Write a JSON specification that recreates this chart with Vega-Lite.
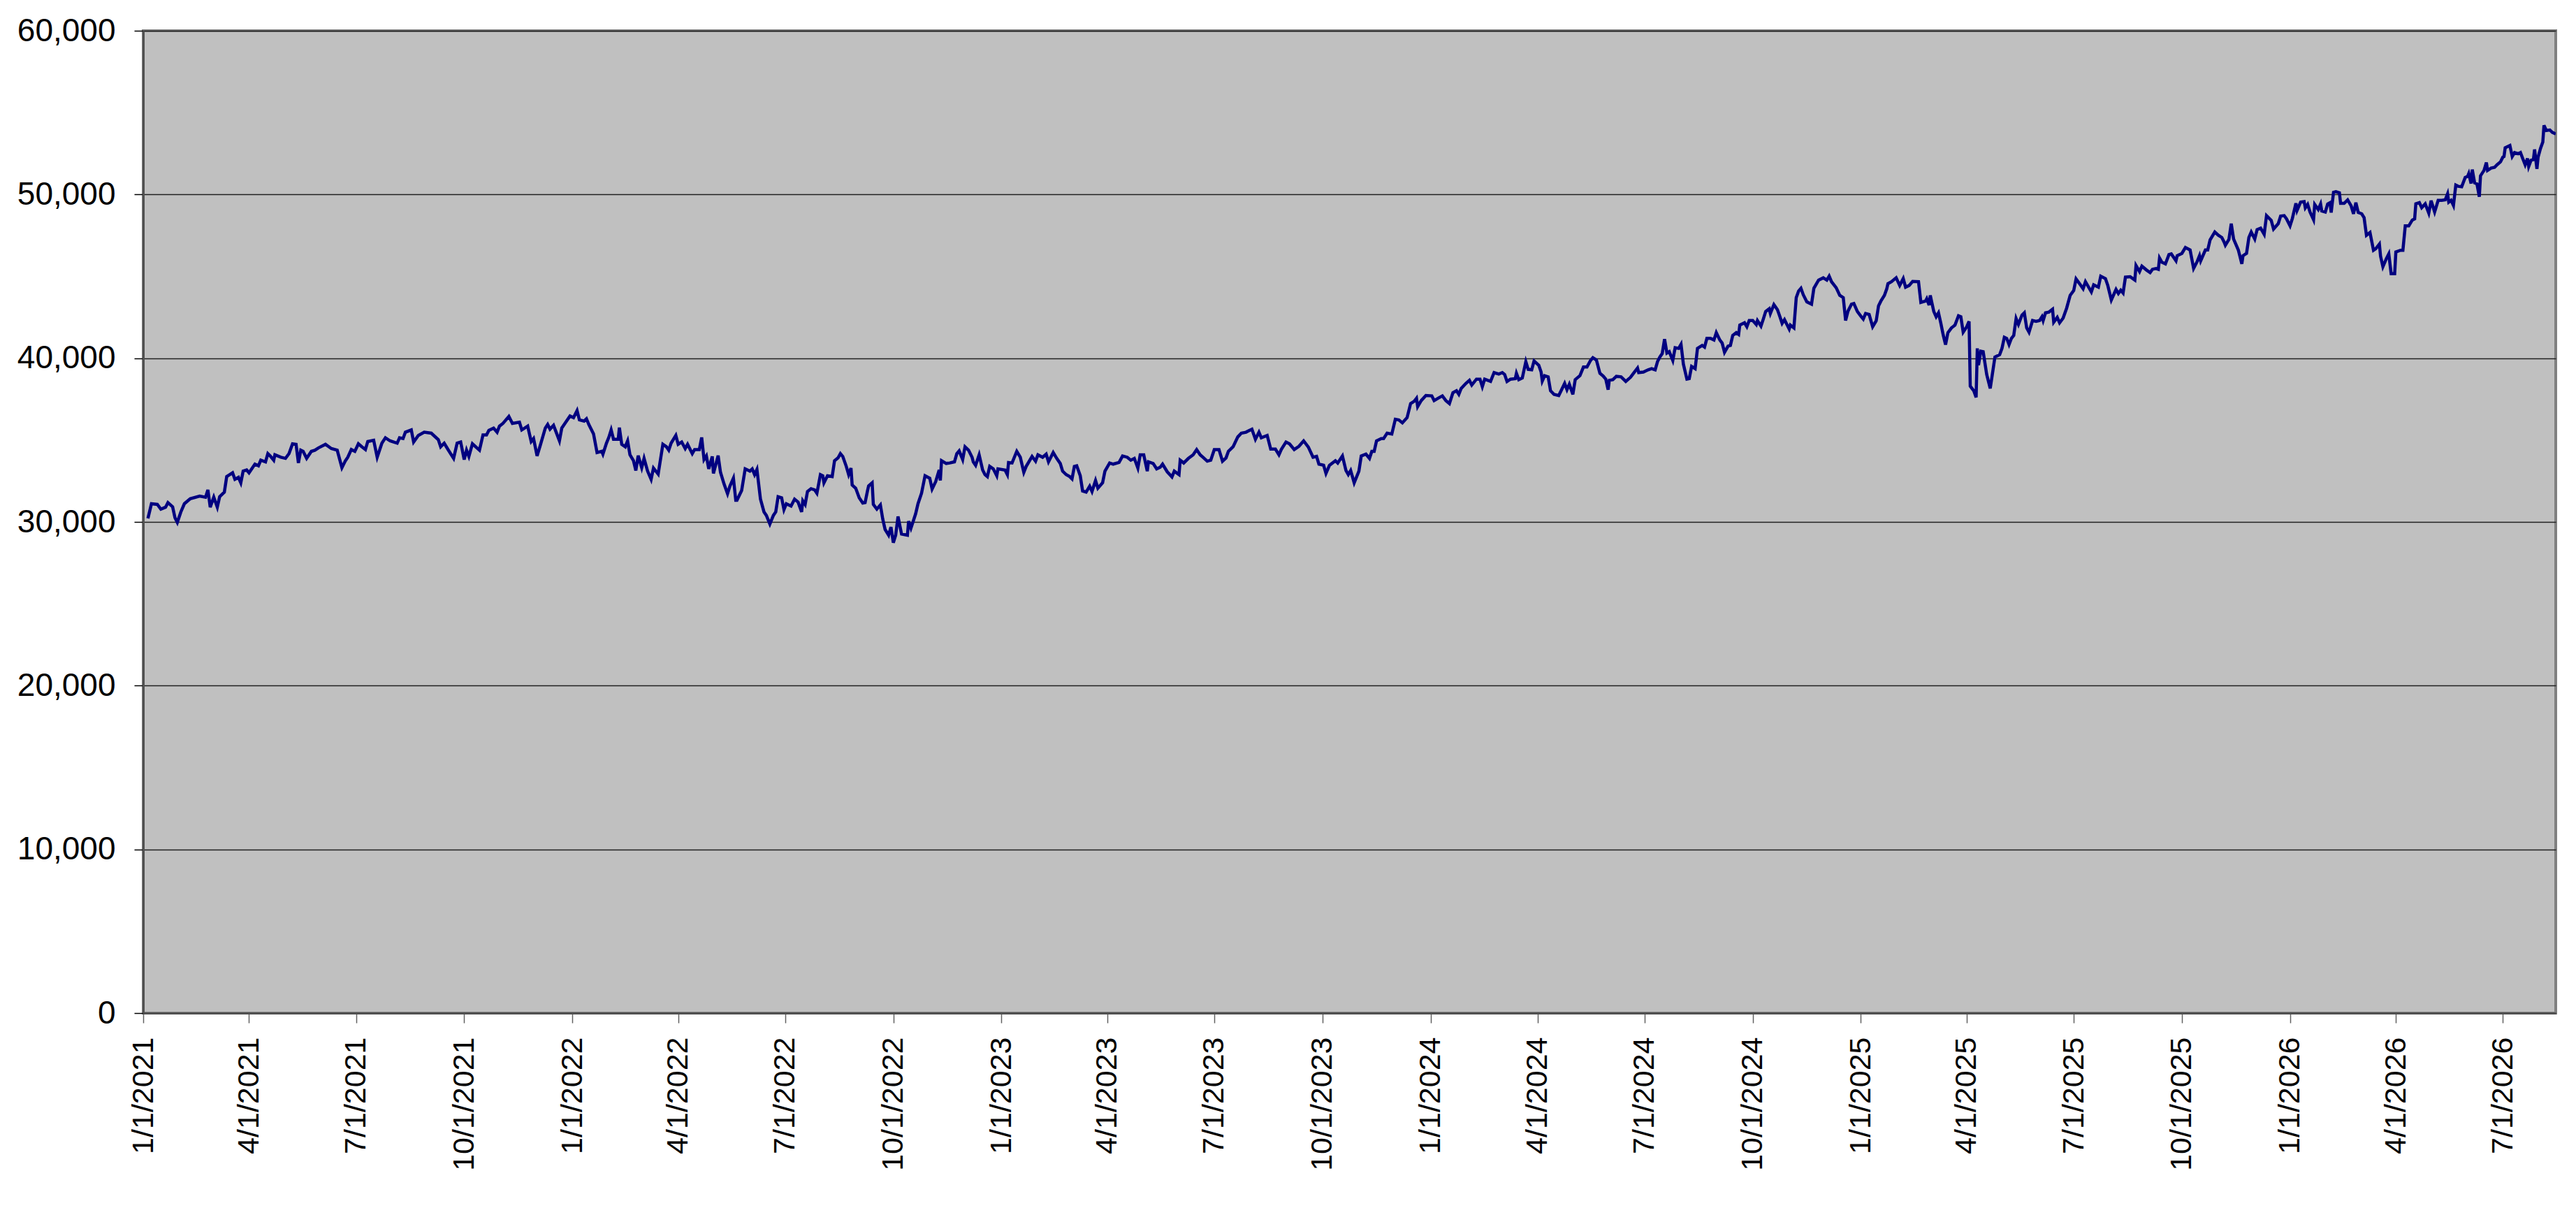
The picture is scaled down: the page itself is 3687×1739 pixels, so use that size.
{
"$schema": "https://vega.github.io/schema/vega-lite/v6.json",
"width": 3453,
"height": 1406,
"autosize": {"type": "none"},
"padding": {"left": 205, "top": 44, "right": 29, "bottom": 289},
"background": "#ffffff",
"config": {
  "view": {"fill": "#C0C0C0", "stroke": "#808080", "strokeWidth": 4},
  "font": "Liberation Sans",
  "axis": {"labelFont": "Liberation Sans", "labelColor": "#000000", "labelLimit": 0}
},
"data": {"values": [
{"d":"2021-01-05","v":30210},{"d":"2021-01-08","v":31110},{"d":"2021-01-13","v":31070},{"d":"2021-01-16","v":30780},{"d":"2021-01-20","v":30900},{"d":"2021-01-22","v":31180},{"d":"2021-01-26","v":30920},{"d":"2021-01-28","v":30260},{"d":"2021-01-30","v":29970},
{"d":"2021-02-02","v":30610},{"d":"2021-02-05","v":31110},{"d":"2021-02-10","v":31420},{"d":"2021-02-18","v":31580},{"d":"2021-02-23","v":31510},{"d":"2021-02-25","v":31960},{"d":"2021-02-27","v":30900},
{"d":"2021-03-02","v":31510},{"d":"2021-03-05","v":30900},{"d":"2021-03-07","v":31540},{"d":"2021-03-11","v":31820},{"d":"2021-03-13","v":32770},{"d":"2021-03-18","v":33000},{"d":"2021-03-20","v":32600},{"d":"2021-03-23","v":32720},{"d":"2021-03-25","v":32390},{"d":"2021-03-27","v":33100},{"d":"2021-03-30","v":33170},
{"d":"2021-04-01","v":33000},{"d":"2021-04-06","v":33530},{"d":"2021-04-09","v":33430},{"d":"2021-04-11","v":33770},{"d":"2021-04-15","v":33670},{"d":"2021-04-17","v":34170},{"d":"2021-04-19","v":34030},{"d":"2021-04-22","v":33770},{"d":"2021-04-23","v":34100},{"d":"2021-04-28","v":33950},
{"d":"2021-05-02","v":33880},{"d":"2021-05-05","v":34170},{"d":"2021-05-08","v":34770},{"d":"2021-05-11","v":34740},{"d":"2021-05-13","v":33600},{"d":"2021-05-15","v":34380},{"d":"2021-05-17","v":34310},{"d":"2021-05-20","v":33880},{"d":"2021-05-24","v":34310},{"d":"2021-05-27","v":34380},{"d":"2021-05-30","v":34520},
{"d":"2021-06-05","v":34740},{"d":"2021-06-10","v":34480},{"d":"2021-06-15","v":34380},{"d":"2021-06-19","v":33310},{"d":"2021-06-22","v":33740},{"d":"2021-06-24","v":33950},{"d":"2021-06-27","v":34420},{"d":"2021-06-30","v":34310},
{"d":"2021-07-03","v":34770},{"d":"2021-07-06","v":34590},{"d":"2021-07-09","v":34420},{"d":"2021-07-11","v":34910},{"d":"2021-07-16","v":34990},{"d":"2021-07-19","v":33950},{"d":"2021-07-23","v":34810},{"d":"2021-07-26","v":35140},{"d":"2021-07-30","v":34950},
{"d":"2021-08-02","v":34880},{"d":"2021-08-05","v":34810},{"d":"2021-08-07","v":35140},{"d":"2021-08-10","v":35090},{"d":"2021-08-12","v":35480},{"d":"2021-08-17","v":35620},{"d":"2021-08-19","v":34880},{"d":"2021-08-23","v":35280},{"d":"2021-08-28","v":35480},
{"d":"2021-09-03","v":35420},{"d":"2021-09-09","v":35020},{"d":"2021-09-11","v":34590},{"d":"2021-09-14","v":34810},{"d":"2021-09-17","v":34450},{"d":"2021-09-22","v":33880},{"d":"2021-09-25","v":34810},{"d":"2021-09-28","v":34880},
{"d":"2021-10-01","v":33810},{"d":"2021-10-03","v":34380},{"d":"2021-10-05","v":34000},{"d":"2021-10-08","v":34770},{"d":"2021-10-14","v":34380},{"d":"2021-10-17","v":35310},{"d":"2021-10-20","v":35310},{"d":"2021-10-22","v":35590},{"d":"2021-10-26","v":35730},{"d":"2021-10-29","v":35480},{"d":"2021-10-31","v":35850},
{"d":"2021-11-03","v":36020},{"d":"2021-11-08","v":36440},{"d":"2021-11-11","v":36020},{"d":"2021-11-17","v":36090},{"d":"2021-11-19","v":35620},{"d":"2021-11-24","v":35850},{"d":"2021-11-27","v":34910},{"d":"2021-11-29","v":35090},
{"d":"2021-12-02","v":34030},{"d":"2021-12-05","v":34740},{"d":"2021-12-09","v":35730},{"d":"2021-12-11","v":35950},{"d":"2021-12-13","v":35660},{"d":"2021-12-16","v":35900},{"d":"2021-12-18","v":35520},{"d":"2021-12-21","v":34950},{"d":"2021-12-23","v":35730},{"d":"2021-12-26","v":36050},{"d":"2021-12-30","v":36470},
{"d":"2022-01-02","v":36370},{"d":"2022-01-05","v":36800},{"d":"2022-01-07","v":36230},{"d":"2022-01-11","v":36160},{"d":"2022-01-13","v":36300},{"d":"2022-01-15","v":35950},{"d":"2022-01-19","v":35380},{"d":"2022-01-22","v":34240},{"d":"2022-01-26","v":34310},{"d":"2022-01-27","v":34140},{"d":"2022-01-30","v":34810},
{"d":"2022-02-01","v":35160},{"d":"2022-02-03","v":35620},{"d":"2022-02-05","v":35050},{"d":"2022-02-09","v":35050},{"d":"2022-02-10","v":35760},{"d":"2022-02-12","v":34740},{"d":"2022-02-15","v":34590},{"d":"2022-02-17","v":34950},{"d":"2022-02-19","v":34100},{"d":"2022-02-22","v":33740},{"d":"2022-02-24","v":33140},{"d":"2022-02-26","v":34050},
{"d":"2022-03-01","v":33310},{"d":"2022-03-03","v":33880},{"d":"2022-03-06","v":33100},{"d":"2022-03-09","v":32600},{"d":"2022-03-11","v":33290},{"d":"2022-03-15","v":32920},{"d":"2022-03-19","v":34740},{"d":"2022-03-22","v":34590},{"d":"2022-03-24","v":34380},{"d":"2022-03-26","v":34810},{"d":"2022-03-30","v":35280},
{"d":"2022-04-01","v":34740},{"d":"2022-04-04","v":34880},{"d":"2022-04-07","v":34480},{"d":"2022-04-09","v":34740},{"d":"2022-04-13","v":34170},{"d":"2022-04-15","v":34420},{"d":"2022-04-19","v":34420},{"d":"2022-04-21","v":35160},{"d":"2022-04-23","v":33810},{"d":"2022-04-25","v":34030},{"d":"2022-04-27","v":33240},{"d":"2022-04-30","v":34000},
{"d":"2022-05-01","v":32960},{"d":"2022-05-05","v":34050},{"d":"2022-05-07","v":33030},{"d":"2022-05-10","v":32320},{"d":"2022-05-13","v":31720},{"d":"2022-05-15","v":32180},{"d":"2022-05-18","v":32670},{"d":"2022-05-20","v":31320},{"d":"2022-05-21","v":31320},{"d":"2022-05-25","v":31920},{"d":"2022-05-28","v":33240},
{"d":"2022-06-01","v":33100},{"d":"2022-06-03","v":33240},{"d":"2022-06-05","v":32890},{"d":"2022-06-07","v":33200},{"d":"2022-06-10","v":31390},{"d":"2022-06-13","v":30610},{"d":"2022-06-15","v":30400},{"d":"2022-06-18","v":29870},{"d":"2022-06-21","v":30400},{"d":"2022-06-23","v":30610},{"d":"2022-06-25","v":31540},{"d":"2022-06-28","v":31470},{"d":"2022-06-30","v":30750},
{"d":"2022-07-02","v":31110},{"d":"2022-07-06","v":30970},{"d":"2022-07-09","v":31390},{"d":"2022-07-12","v":31210},{"d":"2022-07-15","v":30610},{"d":"2022-07-16","v":31290},{"d":"2022-07-18","v":31070},{"d":"2022-07-20","v":31860},{"d":"2022-07-23","v":32030},{"d":"2022-07-26","v":31960},{"d":"2022-07-28","v":31750},{"d":"2022-07-31","v":32890},
{"d":"2022-08-02","v":32820},{"d":"2022-08-03","v":32390},{"d":"2022-08-06","v":32820},{"d":"2022-08-10","v":32770},{"d":"2022-08-12","v":33740},{"d":"2022-08-15","v":33910},{"d":"2022-08-17","v":34170},{"d":"2022-08-19","v":34000},{"d":"2022-08-22","v":33390},{"d":"2022-08-24","v":32890},{"d":"2022-08-26","v":33290},{"d":"2022-08-27","v":32250},{"d":"2022-08-30","v":32060},
{"d":"2022-09-02","v":31470},{"d":"2022-09-05","v":31150},{"d":"2022-09-07","v":31180},{"d":"2022-09-09","v":31890},{"d":"2022-09-10","v":32200},{"d":"2022-09-13","v":32390},{"d":"2022-09-14","v":31070},{"d":"2022-09-17","v":30780},{"d":"2022-09-20","v":31040},{"d":"2022-09-22","v":30180},{"d":"2022-09-24","v":29540},{"d":"2022-09-27","v":29190},{"d":"2022-09-29","v":29690},
{"d":"2022-10-01","v":28730},{"d":"2022-10-03","v":29190},{"d":"2022-10-05","v":30330},{"d":"2022-10-08","v":29260},{"d":"2022-10-13","v":29190},{"d":"2022-10-14","v":30040},{"d":"2022-10-16","v":29620},{"d":"2022-10-20","v":30500},{"d":"2022-10-22","v":31110},{"d":"2022-10-25","v":31750},{"d":"2022-10-28","v":32820},
{"d":"2022-11-01","v":32670},{"d":"2022-11-03","v":32010},{"d":"2022-11-06","v":32460},{"d":"2022-11-09","v":33170},{"d":"2022-11-10","v":32530},{"d":"2022-11-11","v":33740},{"d":"2022-11-15","v":33570},{"d":"2022-11-18","v":33600},{"d":"2022-11-22","v":33670},{"d":"2022-11-24","v":34170},{"d":"2022-11-26","v":34340},{"d":"2022-11-29","v":33810},
{"d":"2022-12-01","v":34590},{"d":"2022-12-04","v":34380},{"d":"2022-12-07","v":33950},{"d":"2022-12-08","v":33670},{"d":"2022-12-10","v":33460},{"d":"2022-12-13","v":34100},{"d":"2022-12-16","v":33170},{"d":"2022-12-18","v":32890},{"d":"2022-12-20","v":32770},{"d":"2022-12-22","v":33390},{"d":"2022-12-25","v":33240},{"d":"2022-12-28","v":32820},{"d":"2022-12-29","v":33240},
{"d":"2023-01-04","v":33170},{"d":"2023-01-06","v":32890},{"d":"2023-01-07","v":33630},{"d":"2023-01-10","v":33600},{"d":"2023-01-14","v":34310},{"d":"2023-01-17","v":33950},{"d":"2023-01-20","v":33030},{"d":"2023-01-22","v":33390},{"d":"2023-01-27","v":34000},{"d":"2023-01-30","v":33710},
{"d":"2023-02-01","v":34100},{"d":"2023-02-05","v":33950},{"d":"2023-02-08","v":34140},{"d":"2023-02-10","v":33670},{"d":"2023-02-14","v":34240},{"d":"2023-02-17","v":33880},{"d":"2023-02-20","v":33570},{"d":"2023-02-22","v":33100},{"d":"2023-02-25","v":32890},{"d":"2023-02-28","v":32770},
{"d":"2023-03-02","v":32630},{"d":"2023-03-04","v":33390},{"d":"2023-03-06","v":33430},{"d":"2023-03-09","v":32820},{"d":"2023-03-11","v":31890},{"d":"2023-03-14","v":31820},{"d":"2023-03-17","v":32180},{"d":"2023-03-19","v":31860},{"d":"2023-03-22","v":32530},{"d":"2023-03-24","v":32060},{"d":"2023-03-28","v":32390},{"d":"2023-03-30","v":33100},
{"d":"2023-04-03","v":33600},{"d":"2023-04-06","v":33530},{"d":"2023-04-11","v":33630},{"d":"2023-04-14","v":34030},{"d":"2023-04-18","v":33950},{"d":"2023-04-21","v":33770},{"d":"2023-04-24","v":33880},{"d":"2023-04-27","v":33290},{"d":"2023-04-29","v":34100},
{"d":"2023-05-02","v":34100},{"d":"2023-05-05","v":33100},{"d":"2023-05-06","v":33670},{"d":"2023-05-10","v":33570},{"d":"2023-05-13","v":33240},{"d":"2023-05-16","v":33340},{"d":"2023-05-18","v":33530},{"d":"2023-05-22","v":33060},{"d":"2023-05-26","v":32750},{"d":"2023-05-28","v":33100},
{"d":"2023-06-01","v":32890},{"d":"2023-06-02","v":33770},{"d":"2023-06-05","v":33600},{"d":"2023-06-09","v":33880},{"d":"2023-06-13","v":34100},{"d":"2023-06-16","v":34420},{"d":"2023-06-19","v":34100},{"d":"2023-06-22","v":33910},{"d":"2023-06-25","v":33710},{"d":"2023-06-28","v":33770},
{"d":"2023-07-01","v":34420},{"d":"2023-07-05","v":34420},{"d":"2023-07-08","v":33710},{"d":"2023-07-11","v":33910},{"d":"2023-07-13","v":34310},{"d":"2023-07-17","v":34590},{"d":"2023-07-21","v":35190},{"d":"2023-07-24","v":35420},{"d":"2023-07-28","v":35480},{"d":"2023-07-30","v":35560},
{"d":"2023-08-02","v":35660},{"d":"2023-08-05","v":35050},{"d":"2023-08-08","v":35480},{"d":"2023-08-10","v":35140},{"d":"2023-08-15","v":35280},{"d":"2023-08-18","v":34450},{"d":"2023-08-22","v":34450},{"d":"2023-08-25","v":34100},{"d":"2023-08-27","v":34420},{"d":"2023-08-31","v":34880},
{"d":"2023-09-03","v":34770},{"d":"2023-09-07","v":34420},{"d":"2023-09-11","v":34620},{"d":"2023-09-15","v":34950},{"d":"2023-09-19","v":34570},{"d":"2023-09-23","v":33950},{"d":"2023-09-26","v":34000},{"d":"2023-09-28","v":33530},
{"d":"2023-10-02","v":33460},{"d":"2023-10-04","v":32960},{"d":"2023-10-07","v":33460},{"d":"2023-10-12","v":33740},{"d":"2023-10-14","v":33600},{"d":"2023-10-18","v":34030},{"d":"2023-10-21","v":33140},{"d":"2023-10-23","v":32890},{"d":"2023-10-25","v":33140},{"d":"2023-10-28","v":32390},
{"d":"2023-11-01","v":33100},{"d":"2023-11-03","v":34030},{"d":"2023-11-07","v":34140},{"d":"2023-11-10","v":33880},{"d":"2023-11-12","v":34310},{"d":"2023-11-14","v":34310},{"d":"2023-11-16","v":34950},{"d":"2023-11-20","v":35090},{"d":"2023-11-22","v":35090},{"d":"2023-11-25","v":35420},{"d":"2023-11-29","v":35370},
{"d":"2023-12-02","v":36270},{"d":"2023-12-05","v":36230},{"d":"2023-12-08","v":36050},{"d":"2023-12-12","v":36370},{"d":"2023-12-15","v":37230},{"d":"2023-12-18","v":37370},{"d":"2023-12-20","v":37550},{"d":"2023-12-21","v":37040},{"d":"2023-12-24","v":37410},{"d":"2023-12-28","v":37720},
{"d":"2024-01-02","v":37700},{"d":"2024-01-04","v":37410},{"d":"2024-01-08","v":37580},{"d":"2024-01-11","v":37700},{"d":"2024-01-14","v":37410},{"d":"2024-01-17","v":37230},{"d":"2024-01-20","v":37890},{"d":"2024-01-23","v":38010},{"d":"2024-01-25","v":37790},{"d":"2024-01-27","v":38150},{"d":"2024-01-31","v":38460},
{"d":"2024-02-03","v":38650},{"d":"2024-02-05","v":38360},{"d":"2024-02-09","v":38720},{"d":"2024-02-12","v":38720},{"d":"2024-02-14","v":38260},{"d":"2024-02-16","v":38720},{"d":"2024-02-21","v":38580},{"d":"2024-02-24","v":39120},{"d":"2024-02-28","v":39030},
{"d":"2024-03-02","v":39120},{"d":"2024-03-04","v":39000},{"d":"2024-03-06","v":38580},{"d":"2024-03-09","v":38720},{"d":"2024-03-13","v":38750},{"d":"2024-03-14","v":39080},{"d":"2024-03-16","v":38690},{"d":"2024-03-19","v":38790},{"d":"2024-03-22","v":39790},{"d":"2024-03-24","v":39320},{"d":"2024-03-27","v":39290},{"d":"2024-03-29","v":39830},
{"d":"2024-04-02","v":39570},{"d":"2024-04-04","v":39150},{"d":"2024-04-05","v":38610},{"d":"2024-04-07","v":38930},{"d":"2024-04-10","v":38860},{"d":"2024-04-12","v":38010},{"d":"2024-04-15","v":37790},{"d":"2024-04-19","v":37720},{"d":"2024-04-21","v":38010},{"d":"2024-04-24","v":38460},{"d":"2024-04-26","v":38080},{"d":"2024-04-28","v":38410},
{"d":"2024-05-01","v":37790},{"d":"2024-05-03","v":38690},{"d":"2024-05-07","v":38930},{"d":"2024-05-10","v":39460},{"d":"2024-05-13","v":39460},{"d":"2024-05-16","v":39860},{"d":"2024-05-18","v":40030},{"d":"2024-05-21","v":39890},{"d":"2024-05-24","v":39080},{"d":"2024-05-27","v":38890},{"d":"2024-05-29","v":38720},{"d":"2024-05-31","v":38080},
{"d":"2024-06-01","v":38650},{"d":"2024-06-04","v":38690},{"d":"2024-06-07","v":38890},{"d":"2024-06-11","v":38860},{"d":"2024-06-15","v":38580},{"d":"2024-06-19","v":38830},{"d":"2024-06-22","v":39120},{"d":"2024-06-25","v":39400},{"d":"2024-06-26","v":39120},{"d":"2024-06-30","v":39150},
{"d":"2024-07-04","v":39290},{"d":"2024-07-07","v":39360},{"d":"2024-07-10","v":39290},{"d":"2024-07-12","v":39790},{"d":"2024-07-14","v":40070},{"d":"2024-07-16","v":40280},{"d":"2024-07-18","v":41170},{"d":"2024-07-20","v":40310},{"d":"2024-07-22","v":40400},{"d":"2024-07-25","v":39860},{"d":"2024-07-27","v":40640},{"d":"2024-07-30","v":40600},
{"d":"2024-08-01","v":40850},{"d":"2024-08-03","v":39640},{"d":"2024-08-06","v":38720},{"d":"2024-08-08","v":38750},{"d":"2024-08-10","v":39500},{"d":"2024-08-13","v":39360},{"d":"2024-08-15","v":40600},{"d":"2024-08-19","v":40780},{"d":"2024-08-21","v":40680},{"d":"2024-08-23","v":41210},{"d":"2024-08-26","v":41210},{"d":"2024-08-29","v":41110},{"d":"2024-08-31","v":41560},
{"d":"2024-09-03","v":41110},{"d":"2024-09-05","v":40920},{"d":"2024-09-07","v":40360},{"d":"2024-09-10","v":40740},{"d":"2024-09-12","v":40780},{"d":"2024-09-14","v":41390},{"d":"2024-09-17","v":41560},{"d":"2024-09-19","v":41450},{"d":"2024-09-20","v":42020},{"d":"2024-09-24","v":42160},{"d":"2024-09-26","v":41920},{"d":"2024-09-28","v":42300},
{"d":"2024-10-01","v":42300},{"d":"2024-10-04","v":42060},{"d":"2024-10-05","v":42300},{"d":"2024-10-08","v":41960},{"d":"2024-10-10","v":42390},{"d":"2024-10-12","v":42850},{"d":"2024-10-15","v":43020},{"d":"2024-10-16","v":42730},{"d":"2024-10-19","v":43270},{"d":"2024-10-22","v":42960},{"d":"2024-10-24","v":42560},{"d":"2024-10-26","v":42130},{"d":"2024-10-28","v":42350},
{"d":"2024-11-01","v":41780},{"d":"2024-11-02","v":42020},{"d":"2024-11-05","v":41850},{"d":"2024-11-07","v":43700},{"d":"2024-11-09","v":44100},{"d":"2024-11-11","v":44270},{"d":"2024-11-13","v":43870},{"d":"2024-11-16","v":43440},{"d":"2024-11-20","v":43300},{"d":"2024-11-22","v":44270},{"d":"2024-11-26","v":44770},{"d":"2024-11-30","v":44910},
{"d":"2024-12-03","v":44770},{"d":"2024-12-05","v":45010},{"d":"2024-12-07","v":44670},{"d":"2024-12-11","v":44300},{"d":"2024-12-14","v":43840},{"d":"2024-12-17","v":43700},{"d":"2024-12-19","v":42300},{"d":"2024-12-21","v":42870},{"d":"2024-12-24","v":43300},{"d":"2024-12-26","v":43340},{"d":"2024-12-29","v":42850},
{"d":"2025-01-01","v":42560},{"d":"2025-01-03","v":42390},{"d":"2025-01-05","v":42730},{"d":"2025-01-08","v":42670},{"d":"2025-01-11","v":41920},{"d":"2025-01-14","v":42280},{"d":"2025-01-16","v":43200},{"d":"2025-01-18","v":43490},{"d":"2025-01-21","v":43840},{"d":"2025-01-23","v":44240},{"d":"2025-01-24","v":44550},{"d":"2025-01-27","v":44670},{"d":"2025-01-31","v":44910},
{"d":"2025-02-03","v":44440},{"d":"2025-02-06","v":44860},{"d":"2025-02-08","v":44340},{"d":"2025-02-11","v":44440},{"d":"2025-02-14","v":44690},{"d":"2025-02-19","v":44670},{"d":"2025-02-21","v":43410},{"d":"2025-02-25","v":43490},{"d":"2025-02-26","v":43630},{"d":"2025-02-28","v":43240},
{"d":"2025-03-01","v":43840},{"d":"2025-03-04","v":42850},{"d":"2025-03-06","v":42530},{"d":"2025-03-08","v":42770},{"d":"2025-03-10","v":42130},{"d":"2025-03-12","v":41420},{"d":"2025-03-14","v":40830},{"d":"2025-03-16","v":41560},{"d":"2025-03-19","v":41850},{"d":"2025-03-22","v":42020},{"d":"2025-03-25","v":42590},{"d":"2025-03-27","v":42530},{"d":"2025-03-29","v":41590},
{"d":"2025-04-01","v":41920},{"d":"2025-04-03","v":42250},{"d":"2025-04-04","v":38290},{"d":"2025-04-07","v":38010},{"d":"2025-04-09","v":37610},{"d":"2025-04-10","v":40600},{"d":"2025-04-11","v":39570},{"d":"2025-04-13","v":40430},{"d":"2025-04-15","v":40400},{"d":"2025-04-18","v":39000},{"d":"2025-04-21","v":38150},{"d":"2025-04-25","v":40070},{"d":"2025-04-29","v":40210},
{"d":"2025-05-01","v":40600},{"d":"2025-05-03","v":41280},{"d":"2025-05-05","v":41210},{"d":"2025-05-07","v":40830},{"d":"2025-05-09","v":41210},{"d":"2025-05-11","v":41390},{"d":"2025-05-13","v":42420},{"d":"2025-05-15","v":42060},{"d":"2025-05-18","v":42630},{"d":"2025-05-20","v":42770},{"d":"2025-05-22","v":41850},{"d":"2025-05-24","v":41590},{"d":"2025-05-27","v":42300},{"d":"2025-05-30","v":42250},
{"d":"2025-06-02","v":42300},{"d":"2025-06-04","v":42530},{"d":"2025-06-05","v":42300},{"d":"2025-06-07","v":42770},{"d":"2025-06-10","v":42820},{"d":"2025-06-13","v":42990},{"d":"2025-06-14","v":42200},{"d":"2025-06-17","v":42490},{"d":"2025-06-19","v":42160},{"d":"2025-06-22","v":42450},{"d":"2025-06-25","v":43060},{"d":"2025-06-28","v":43840},
{"d":"2025-07-01","v":44130},{"d":"2025-07-03","v":44840},{"d":"2025-07-06","v":44550},{"d":"2025-07-09","v":44240},{"d":"2025-07-11","v":44670},{"d":"2025-07-16","v":44050},{"d":"2025-07-18","v":44480},{"d":"2025-07-22","v":44340},{"d":"2025-07-24","v":45010},{"d":"2025-07-28","v":44860},{"d":"2025-07-30","v":44440},
{"d":"2025-08-02","v":43560},{"d":"2025-08-06","v":44200},{"d":"2025-08-08","v":43950},{"d":"2025-08-10","v":44150},{"d":"2025-08-12","v":43980},{"d":"2025-08-14","v":44950},{"d":"2025-08-18","v":44980},{"d":"2025-08-22","v":44770},{"d":"2025-08-23","v":45660},{"d":"2025-08-26","v":45290},{"d":"2025-08-28","v":45620},
{"d":"2025-09-01","v":45380},{"d":"2025-09-04","v":45230},{"d":"2025-09-06","v":45430},{"d":"2025-09-09","v":45480},{"d":"2025-09-11","v":45430},{"d":"2025-09-12","v":46120},{"d":"2025-09-14","v":45860},{"d":"2025-09-17","v":45760},{"d":"2025-09-20","v":46330},{"d":"2025-09-22","v":46370},{"d":"2025-09-26","v":45950},{"d":"2025-09-27","v":46260},
{"d":"2025-10-01","v":46400},{"d":"2025-10-04","v":46760},{"d":"2025-10-08","v":46610},{"d":"2025-10-11","v":45480},{"d":"2025-10-14","v":45900},{"d":"2025-10-16","v":46260},{"d":"2025-10-17","v":45950},{"d":"2025-10-21","v":46610},{"d":"2025-10-23","v":46610},{"d":"2025-10-25","v":47230},{"d":"2025-10-29","v":47710},
{"d":"2025-11-01","v":47510},{"d":"2025-11-04","v":47370},{"d":"2025-11-06","v":47080},{"d":"2025-11-07","v":46900},{"d":"2025-11-10","v":47250},{"d":"2025-11-12","v":48220},{"d":"2025-11-14","v":47280},{"d":"2025-11-18","v":46610},{"d":"2025-11-20","v":46050},{"d":"2025-11-21","v":45760},{"d":"2025-11-22","v":46260},{"d":"2025-11-25","v":46400},{"d":"2025-11-27","v":47370},{"d":"2025-11-29","v":47710},
{"d":"2025-12-02","v":47280},{"d":"2025-12-04","v":47850},{"d":"2025-12-07","v":47940},{"d":"2025-12-10","v":47570},{"d":"2025-12-12","v":48710},{"d":"2025-12-16","v":48420},{"d":"2025-12-18","v":47890},{"d":"2025-12-22","v":48220},{"d":"2025-12-24","v":48680},{"d":"2025-12-27","v":48710},{"d":"2025-12-29","v":48510},
{"d":"2026-01-01","v":48080},{"d":"2026-01-03","v":48540},{"d":"2026-01-06","v":49460},{"d":"2026-01-07","v":49030},{"d":"2026-01-10","v":49530},{"d":"2026-01-13","v":49560},{"d":"2026-01-14","v":49180},{"d":"2026-01-16","v":49390},{"d":"2026-01-18","v":48930},{"d":"2026-01-21","v":48460},{"d":"2026-01-22","v":49390},{"d":"2026-01-25","v":49080},{"d":"2026-01-27","v":49420},{"d":"2026-01-28","v":48990},{"d":"2026-01-31","v":48930},
{"d":"2026-02-02","v":49420},{"d":"2026-02-04","v":49500},{"d":"2026-02-05","v":48890},{"d":"2026-02-07","v":50130},{"d":"2026-02-09","v":50170},{"d":"2026-02-12","v":50100},{"d":"2026-02-13","v":49460},{"d":"2026-02-16","v":49460},{"d":"2026-02-19","v":49670},{"d":"2026-02-22","v":49300},{"d":"2026-02-24","v":48820},{"d":"2026-02-26","v":49500},{"d":"2026-02-28","v":48900},
{"d":"2026-03-03","v":48820},{"d":"2026-03-05","v":48580},{"d":"2026-03-07","v":47510},{"d":"2026-03-10","v":47680},{"d":"2026-03-13","v":46590},{"d":"2026-03-15","v":46690},{"d":"2026-03-18","v":46970},{"d":"2026-03-19","v":46230},{"d":"2026-03-21","v":45590},{"d":"2026-03-24","v":46090},{"d":"2026-03-26","v":46370},{"d":"2026-03-28","v":45160},{"d":"2026-03-31","v":45160},
{"d":"2026-04-01","v":46490},{"d":"2026-04-05","v":46590},{"d":"2026-04-07","v":46590},{"d":"2026-04-09","v":48080},{"d":"2026-04-12","v":48080},{"d":"2026-04-15","v":48440},{"d":"2026-04-17","v":48510},{"d":"2026-04-18","v":49430},{"d":"2026-04-21","v":49500},{"d":"2026-04-23","v":49190},{"d":"2026-04-26","v":49430},{"d":"2026-04-29","v":48860},
{"d":"2026-05-01","v":49620},{"d":"2026-05-04","v":48930},{"d":"2026-05-07","v":49640},{"d":"2026-05-10","v":49640},{"d":"2026-05-13","v":49670},{"d":"2026-05-15","v":50040},{"d":"2026-05-16","v":49530},{"d":"2026-05-18","v":49640},{"d":"2026-05-20","v":49330},{"d":"2026-05-22","v":50570},{"d":"2026-05-24","v":50500},{"d":"2026-05-27","v":50470},{"d":"2026-05-30","v":51040},
{"d":"2026-06-01","v":51100},{"d":"2026-06-02","v":51280},{"d":"2026-06-04","v":50670},{"d":"2026-06-05","v":51520},{"d":"2026-06-07","v":50710},{"d":"2026-06-09","v":50640},{"d":"2026-06-11","v":49860},{"d":"2026-06-12","v":51140},{"d":"2026-06-15","v":51470},{"d":"2026-06-17","v":51950},{"d":"2026-06-18","v":51470},{"d":"2026-06-21","v":51610},{"d":"2026-06-24","v":51660},{"d":"2026-06-26","v":51810},{"d":"2026-06-29","v":51990},
{"d":"2026-07-01","v":52280},{"d":"2026-07-02","v":52320},{"d":"2026-07-03","v":52850},{"d":"2026-07-07","v":52990},{"d":"2026-07-09","v":52320},{"d":"2026-07-11","v":52560},{"d":"2026-07-14","v":52490},{"d":"2026-07-16","v":52560},{"d":"2026-07-18","v":52180},{"d":"2026-07-20","v":51810},{"d":"2026-07-22","v":52200},{"d":"2026-07-23","v":51710},{"d":"2026-07-25","v":52090},{"d":"2026-07-27","v":52130},{"d":"2026-07-28","v":52750},{"d":"2026-07-30","v":51560},{"d":"2026-07-31","v":52280},
{"d":"2026-08-02","v":52800},{"d":"2026-08-04","v":53200},{"d":"2026-08-05","v":54220},{"d":"2026-08-07","v":53910},{"d":"2026-08-10","v":53940},{"d":"2026-08-12","v":53800},{"d":"2026-08-15","v":53700}
]},
"mark": {"type": "line", "color": "#000080", "strokeWidth": 4.5, "clip": true},
"encoding": {
  "x": {
    "field": "d", "type": "temporal",
    "scale": {"type": "utc", "domain": [{"year": 2021, "month": 1, "date": 1, "utc": true}, {"year": 2026, "month": 8, "date": 15, "utc": true}]},
    "axis": {
      "title": null, "grid": false, "format": "%-m/%-d/%Y",
      "values": [
        {"year":2021,"month":1,"date":1,"utc":true},{"year":2021,"month":4,"date":1,"utc":true},{"year":2021,"month":7,"date":1,"utc":true},{"year":2021,"month":10,"date":1,"utc":true},
        {"year":2022,"month":1,"date":1,"utc":true},{"year":2022,"month":4,"date":1,"utc":true},{"year":2022,"month":7,"date":1,"utc":true},{"year":2022,"month":10,"date":1,"utc":true},
        {"year":2023,"month":1,"date":1,"utc":true},{"year":2023,"month":4,"date":1,"utc":true},{"year":2023,"month":7,"date":1,"utc":true},{"year":2023,"month":10,"date":1,"utc":true},
        {"year":2024,"month":1,"date":1,"utc":true},{"year":2024,"month":4,"date":1,"utc":true},{"year":2024,"month":7,"date":1,"utc":true},{"year":2024,"month":10,"date":1,"utc":true},
        {"year":2025,"month":1,"date":1,"utc":true},{"year":2025,"month":4,"date":1,"utc":true},{"year":2025,"month":7,"date":1,"utc":true},{"year":2025,"month":10,"date":1,"utc":true},
        {"year":2026,"month":1,"date":1,"utc":true},{"year":2026,"month":4,"date":1,"utc":true},{"year":2026,"month":7,"date":1,"utc":true}
      ],
      "labelAngle": -90, "labelFontSize": 43, "labelPadding": 20, "labelLimit": 0,
      "labelOverlap": false, "labelBound": false, "labelFlush": false,
      "tickSize": 14, "tickColor": "#606060", "tickWidth": 1.5,
      "domainColor": "#505050", "domainWidth": 3
    }
  },
  "y": {
    "field": "v", "type": "quantitative",
    "scale": {"domain": [0, 60000], "nice": false, "zero": true},
    "axis": {
      "title": null, "values": [0, 10000, 20000, 30000, 40000, 50000, 60000], "format": ",d",
      "labelFontSize": 46, "labelPadding": 27, "labelLimit": 0,
      "labelOverlap": false, "labelBound": false, "labelFlush": false,
      "tickSize": 13, "tickColor": "#000000", "tickWidth": 1.5,
      "grid": true, "gridColor": "#202020", "gridWidth": 1.5,
      "domainColor": "#505050", "domainWidth": 3
    }
  }
}
}
